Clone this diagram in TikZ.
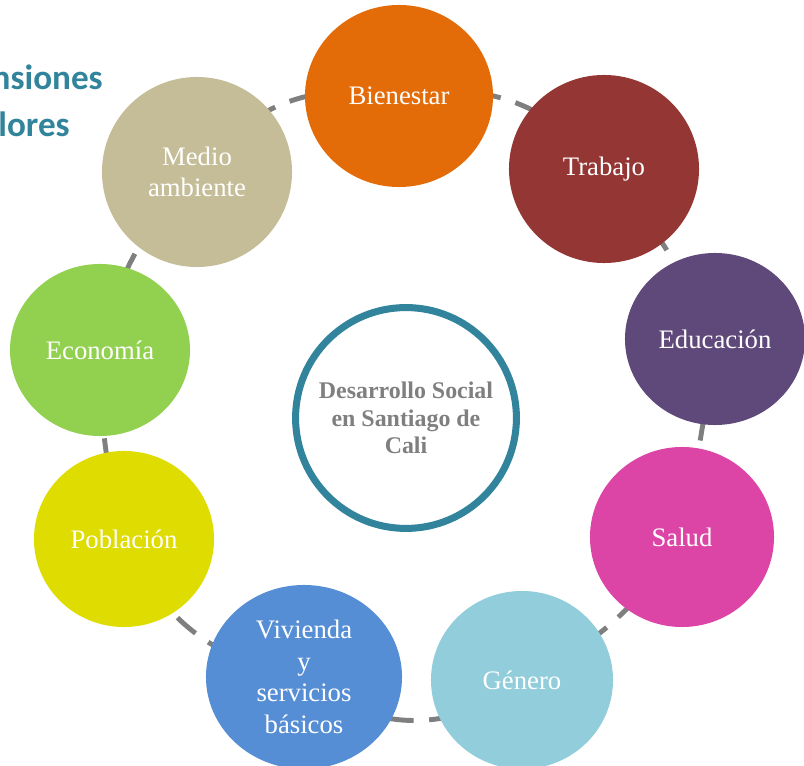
\documentclass[tikz,border=0pt]{standalone}
\usepackage{fontspec}
\setmainfont{Liberation Serif}
\newfontfamily\titlefont{Carlito}
\usetikzlibrary{shapes.geometric,backgrounds}

\definecolor{hubteal}{HTML}{31849B}
\definecolor{ringgray}{HTML}{7F7F7F}
\definecolor{hubtext}{HTML}{7F7F7F}
\definecolor{bienestarc}{HTML}{E36C09}
\definecolor{trabajoc}{HTML}{943634}
\definecolor{educacionc}{HTML}{5F497A}
\definecolor{saludc}{HTML}{DC45A6}
\definecolor{generoc}{HTML}{92CDDC}
\definecolor{viviendac}{HTML}{558ED5}
\definecolor{poblacionc}{HTML}{DEDC00}
\definecolor{economiac}{HTML}{92D050}
\definecolor{medioc}{HTML}{C4BD97}

\begin{document}
\begin{tikzpicture}
[
    x=0.025cm, y=0.025cm,
    bubble/.style={ellipse, minimum width=4.65cm, minimum height=4.5cm, inner sep=0pt,
        text=white, align=center, font=\fontsize{19}{22.5}\selectfont},
    hub/.style={circle, draw=hubteal, line width=5pt, fill=white, minimum size=5.52cm,
        inner sep=0pt, align=center, text=hubtext, font=\bfseries\fontsize{17}{19.5}\selectfont},
    ring/.style={draw=ringgray, line width=3.5pt, dash pattern=on 17pt off 11pt},
    heading/.style={text=hubteal, font=\titlefont\bfseries\fontsize{25}{33}\selectfont, inner sep=0pt},
]
\useasboundingbox (0,0) rectangle (804,765);
\clip (0,0) rectangle (804,765);

% cut-off heading
\node [heading, anchor=base east] (head1) at (103,675) {nsiones};
\node [heading, anchor=base east] (head2) at (70,628) {lores};

% hub
\node [hub] (desarrollo) at (406,347) {Desarrollo Social\\en Santiago de\\Cali};

% ring of dimensions
\node [bubble, fill=bienestarc, minimum width=4.7cm, minimum height=4.55cm] (bienestar) at (399,669) {Bienestar};
\node [bubble, fill=trabajoc, minimum width=4.75cm, minimum height=4.7cm] (trabajo) at (604,596) {Trabajo};
\node [bubble, fill=educacionc, minimum width=4.5cm, minimum height=4.3cm] (educacion) at (715,426) {Educación};
\node [bubble, fill=saludc, minimum width=4.6cm] (salud) at (682,228) {Salud};
\node [bubble, fill=generoc, minimum width=4.55cm, minimum height=4.45cm] (genero) at (522,85) {Género};
\node [bubble, fill=viviendac, minimum width=4.9cm, minimum height=4.6cm] (vivienda) at (304,88) {Vivienda\\y\\servicios\\básicos};
\node [bubble, fill=poblacionc, minimum width=4.5cm, minimum height=4.4cm] (poblacion) at (124,226) {Población};
\node [bubble, fill=economiac, minimum width=4.5cm, minimum height=4.3cm] (economia) at (100,415) {Economía};
\node [bubble, fill=medioc, minimum width=4.75cm, minimum height=4.75cm] (medio) at (197,593) {Medio\\ambiente};

% dashed ring behind
\begin{scope}[on background layer]
\draw [ring] (bienestar.center) to[bend left=31] (trabajo.center);
\draw [ring] (trabajo.center) to[bend left=8] (educacion.center);
\draw [ring] (educacion.center) to[bend left=2] (salud.center);
\draw [ring] (salud.center) to[bend left=16] (genero.center);
\draw [ring] (genero.center) to[bend left=41] (vivienda.center);
\draw [ring] (vivienda.center) to[bend left=28] (poblacion.center);
\draw [ring] (poblacion.center) to[bend left=7] (economia.center);
\draw [ring] (economia.center) to[bend left=15] (medio.center);
\draw [ring] (medio.center) to[bend left=32] (bienestar.center);
\end{scope}
\end{tikzpicture}
\end{document}
